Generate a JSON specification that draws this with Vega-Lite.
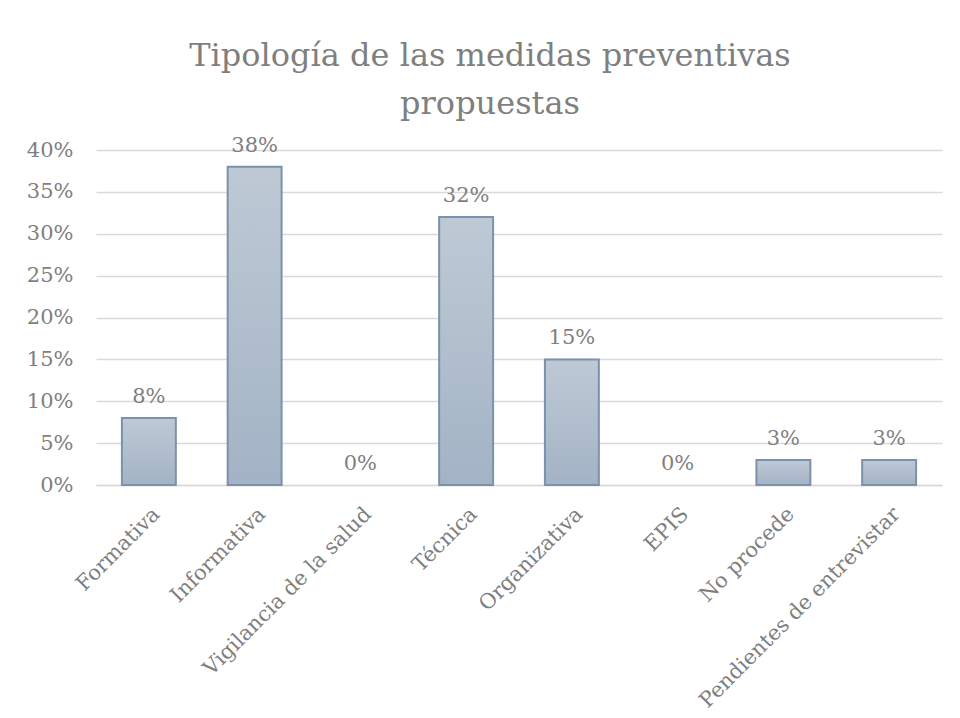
{
  "$schema": "https://vega.github.io/schema/vega-lite/v6.json",
  "autosize": "none",
  "width": 846,
  "height": 335,
  "padding": {"left": 96, "top": 150, "right": 18, "bottom": 233},
  "background": "white",
  "title": {
    "text": ["Tipología de las medidas preventivas", "propuestas"],
    "font": "DejaVu Serif",
    "fontSize": 32,
    "fontWeight": "normal",
    "color": "#7f7f7f",
    "lineHeight": 48,
    "anchor": "middle",
    "dx": -29,
    "offset": 14
  },
  "data": {
    "values": [
      {"cat": "Formativa", "v": 0.08},
      {"cat": "Informativa", "v": 0.38},
      {"cat": "Vigilancia de la salud", "v": 0.0},
      {"cat": "Técnica", "v": 0.32},
      {"cat": "Organizativa", "v": 0.15},
      {"cat": "EPIS", "v": 0.0},
      {"cat": "No procede", "v": 0.03},
      {"cat": "Pendientes de entrevistar", "v": 0.03}
    ]
  },
  "encoding": {
    "x": {
      "field": "cat",
      "type": "nominal",
      "sort": ["Formativa", "Informativa", "Vigilancia de la salud", "Técnica", "Organizativa", "EPIS", "No procede", "Pendientes de entrevistar"],
      "scale": {"paddingInner": 0.49, "paddingOuter": 0.245},
      "axis": {
        "title": null,
        "labelAngle": -45,
        "labelFont": "DejaVu Serif",
        "labelFontSize": 21,
        "labelColor": "#7f7f7f",
        "labelPadding": 18,
        "labelLimit": 500,
        "ticks": false,
        "domainColor": "#d9d9d9",
        "domainWidth": 1.5,
        "grid": false
      }
    },
    "y": {
      "field": "v",
      "type": "quantitative",
      "scale": {"domain": [0, 0.4], "nice": false},
      "axis": {
        "title": null,
        "format": ".0%",
        "values": [0, 0.05, 0.1, 0.15, 0.2, 0.25, 0.3, 0.35, 0.4],
        "labelFont": "DejaVu Serif",
        "labelFontSize": 21,
        "labelColor": "#7f7f7f",
        "labelPadding": 23,
        "ticks": false,
        "domain": false,
        "gridColor": "#d9d9d9",
        "gridWidth": 1.5
      }
    }
  },
  "layer": [
    {
      "mark": {
        "type": "bar",
        "stroke": "#7a92ab",
        "strokeWidth": 2,
        "fill": {
          "gradient": "linear",
          "x1": 0, "y1": 0, "x2": 0, "y2": 1,
          "stops": [
            {"offset": 0, "color": "#bec9d5"},
            {"offset": 1, "color": "#a3b3c5"}
          ]
        }
      },
      "transform": [{"filter": "datum.v > 0"}]
    },
    {
      "mark": {
        "type": "text",
        "baseline": "alphabetic",
        "dy": -15,
        "font": "DejaVu Serif",
        "fontSize": 21,
        "color": "#7f7f7f"
      },
      "encoding": {
        "text": {"field": "v", "type": "quantitative", "format": ".0%"}
      }
    }
  ],
  "config": {"view": {"stroke": null}}
}
